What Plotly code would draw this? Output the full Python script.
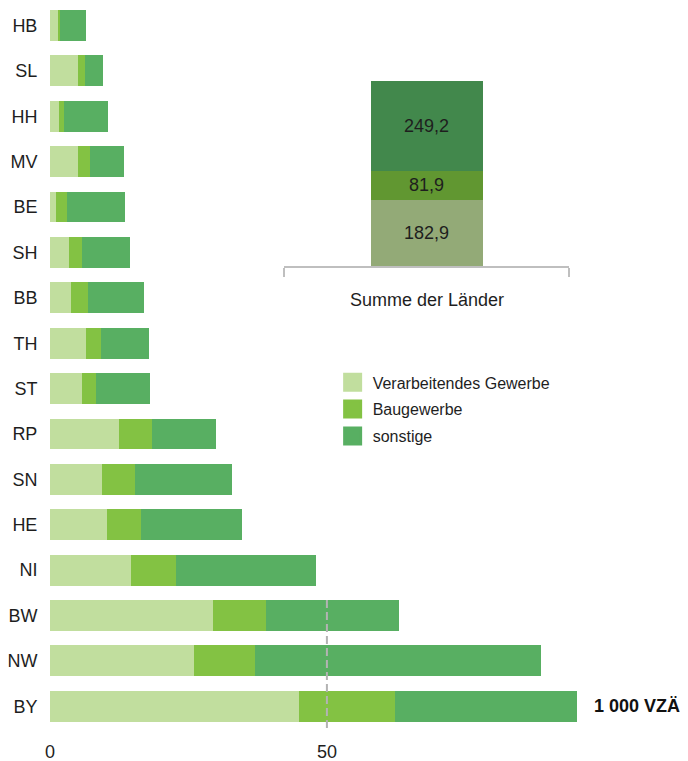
import plotly.graph_objects as go

# Bundesländer, von oben nach unten
states = ["HB", "SL", "HH", "MV", "BE", "SH", "BB", "TH", "ST", "RP", "SN", "HE", "NI", "BW", "NW", "BY"]

# 1 000 VZÄ je Land
verarbeitendes = [1.4, 5.1, 1.6, 5.1, 1.1, 3.4, 3.8, 6.5, 5.8, 12.4, 9.4, 10.3, 14.6, 29.4, 26.0, 45.0]
baugewerbe = [0.4, 1.3, 0.9, 2.2, 2.0, 2.4, 3.1, 2.7, 2.5, 6.1, 6.0, 6.1, 8.1, 9.6, 11.0, 17.3]
sonstige = [4.7, 3.1, 7.9, 6.1, 10.5, 8.7, 10.1, 8.7, 9.8, 11.4, 17.5, 18.2, 25.4, 24.0, 51.6, 32.9]

sector_names = ["Verarbeitendes Gewerbe", "Baugewerbe", "sonstige"]
sum_label = "Summe der Länder"
sum_values = [182.9, 81.9, 249.2]

COLORS = ["#C1DE9E", "#83C243", "#58AF62"]
SUM_COLORS = ["#93AA77", "#619731", "#42884C"]
FONT = "Liberation Sans, Arial, sans-serif"
TEXT_COLOR = "#1E1E1E"

BAR_GAP = 0.32
X_MAX = 115.2

fig = go.Figure()

for name, values, color in zip(sector_names, [verarbeitendes, baugewerbe, sonstige], COLORS):
    fig.add_trace(
        go.Bar(
            name=name,
            y=states,
            x=values,
            orientation="h",
            marker_color=color,
            marker_line_width=0,
            showlegend=False,
            hovertemplate="%{y}: %{x:.1f}<extra>" + name + "</extra>",
        )
    )

# legend entries with larger square symbols
for name, color in zip(sector_names, COLORS):
    fig.add_trace(
        go.Scatter(
            x=[None],
            y=[None],
            mode="markers",
            name=name,
            legendgroup=name,
            marker=dict(symbol="square", size=16, color=color, line=dict(color=color, width=3)),
        )
    )

# inset: Summe der Länder
for name, value, color in zip(sector_names, sum_values, SUM_COLORS):
    fig.add_trace(
        go.Bar(
            name=name,
            x=[0],
            y=[value],
            width=0.393,
            marker_color=color,
            marker_line_width=0,
            texttemplate="%{y:.1f}",
            textposition="inside",
            insidetextanchor="middle",
            textfont=dict(size=18, color=TEXT_COLOR, family=FONT),
            showlegend=False,
            xaxis="x2",
            yaxis="y2",
            hovertemplate=sum_label + ": %{y:.1f}<extra>" + name + "</extra>",
        )
    )

bw_idx = states.index("BW")
fig.add_shape(
    type="line",
    xref="x",
    yref="y",
    x0=50,
    x1=50,
    y0=bw_idx - (1 - BAR_GAP) / 2,
    y1=len(states) - 0.5,
    line=dict(color="#B3B3B3", width=2, dash="8px,4px"),
    layer="above",
)

fig.add_annotation(
    x=0.5,
    xref="x2 domain",
    y=0,
    yref="y2 domain",
    yanchor="top",
    yshift=-22,
    text=sum_label,
    showarrow=False,
    font=dict(size=18, color=TEXT_COLOR, family=FONT),
)

fig.add_annotation(
    x=0.8495,
    xref="paper",
    xanchor="left",
    y="BY",
    yref="y",
    text="<b>1 000 VZÄ</b>",
    showarrow=False,
    font=dict(size=18, color="#111111", family=FONT),
)

fig.update_layout(
    width=680,
    height=753,
    margin=dict(l=42, r=0, t=0, b=32),
    barmode="stack",
    bargap=BAR_GAP,
    separators=", ",
    plot_bgcolor="white",
    paper_bgcolor="white",
    font=dict(family=FONT, color=TEXT_COLOR, size=18),
    xaxis=dict(
        range=[0, X_MAX],
        tickvals=[0, 50],
        showgrid=False,
        zeroline=False,
        showline=False,
        automargin=False,
        ticks="outside",
        ticklen=6,
        tickcolor="rgba(0,0,0,0)",
        tickfont=dict(size=18),
    ),
    yaxis=dict(
        categoryorder="array",
        categoryarray=states,
        range=[len(states) - 0.5, -0.385],
        showgrid=False,
        zeroline=False,
        showline=False,
        automargin=False,
        ticks="outside",
        ticklen=8,
        tickcolor="rgba(0,0,0,0)",
        tickfont=dict(size=18),
    ),
    xaxis2=dict(
        domain=[0.3668, 0.8135],
        anchor="y2",
        range=[-0.5, 0.5],
        showgrid=False,
        zeroline=False,
        showline=True,
        automargin=False,
        linecolor="#BFBFBF",
        linewidth=2,
        ticks="outside",
        tickvals=[-0.5, 0.5],
        ticktext=["", ""],
        ticklen=9,
        tickwidth=2,
        tickcolor="#BFBFBF",
    ),
    yaxis2=dict(
        domain=[0.6422, 0.9279],
        anchor="x2",
        range=[0, 572],
        visible=False,
    ),
    legend=dict(
        x=0.443,
        xanchor="left",
        y=0.5043,
        yanchor="top",
        font=dict(size=16, color=TEXT_COLOR, family=FONT),
        tracegroupgap=3,
        bgcolor="rgba(0,0,0,0)",
    ),
)

fig.write_html("out.html")
